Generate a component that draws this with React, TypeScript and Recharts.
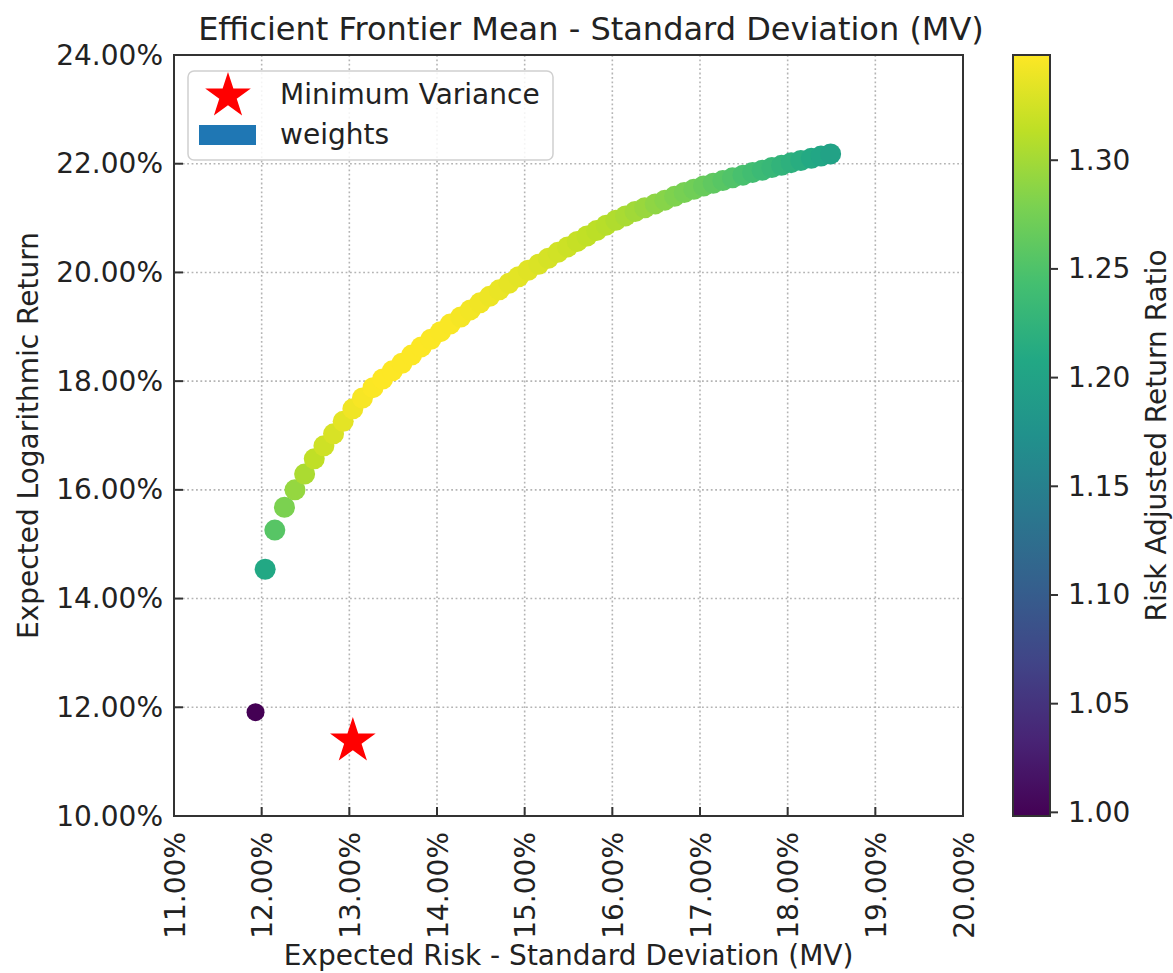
import React from 'react';
import {
  ScatterChart, Scatter, XAxis, YAxis, CartesianGrid, ReferenceArea,
  ComposedChart,
} from 'recharts';

// ---------- data ----------
const riskPct = [
  11.93, 12.04, 12.15, 12.26, 12.38, 12.49, 12.60, 12.71, 12.82, 12.93,
  13.04, 13.15, 13.27, 13.38, 13.49, 13.60, 13.71, 13.82, 13.93, 14.04,
  14.15, 14.27, 14.38, 14.49, 14.60, 14.71, 14.82, 14.93, 15.04, 15.16,
  15.27, 15.38, 15.49, 15.60, 15.71, 15.82, 15.93, 16.04, 16.15, 16.26,
  16.37, 16.49, 16.60, 16.71, 16.82, 16.93, 17.04, 17.15, 17.26, 17.37,
  17.49, 17.60, 17.71, 17.82, 17.93, 18.04, 18.15, 18.27, 18.38, 18.49,
];
const returnPct = [
  11.91, 14.54, 15.26, 15.68, 16.00, 16.29, 16.57, 16.81, 17.03, 17.26,
  17.49, 17.69, 17.88, 18.04, 18.19, 18.33, 18.48, 18.63, 18.77, 18.91,
  19.05, 19.18, 19.31, 19.44, 19.56, 19.68, 19.80, 19.92, 20.04, 20.15,
  20.26, 20.37, 20.47, 20.57, 20.67, 20.77, 20.87, 20.96, 21.04, 21.12,
  21.19, 21.26, 21.33, 21.40, 21.47, 21.53, 21.59, 21.64, 21.69, 21.74,
  21.79, 21.84, 21.88, 21.93, 21.97, 22.02, 22.06, 22.10, 22.14, 22.18,
];
const minVarRisk = [13.04];
const minVarReturn = [11.38];

const xTicks = [11, 12, 13, 14, 15, 16, 17, 18, 19, 20];
const yTicks = [10, 12, 14, 16, 18, 20, 22, 24];
const cbarTicks = [1.0, 1.05, 1.1, 1.15, 1.2, 1.25, 1.3];

const TITLE = 'Efficient Frontier Mean - Standard Deviation (MV)';
const X_LABEL = 'Expected Risk - Standard Deviation (MV)';
const Y_LABEL = 'Expected Logarithmic Return';
const CBAR_LABEL = 'Risk Adjusted Return Ratio';
const LEGEND_STAR = 'Minimum Variance';
const LEGEND_RECT = 'weights';

// ---------- styling ----------
const FONT = "'DejaVu Sans', sans-serif";
const TXT = '#222222';
const FRAME = '#333333';
const VIRIDIS = [
  '#440154', '#482475', '#414487', '#355f8d', '#2a788e', '#21918c',
  '#22a884', '#44bf70', '#7ad151', '#bddf26', '#fde725',
];

function hexToRgb(h: string) {
  const n = parseInt(h.slice(1), 16);
  return [(n >> 16) & 255, (n >> 8) & 255, n & 255];
}
function viridis(t: number) {
  const c = Math.max(0, Math.min(1, t)) * (VIRIDIS.length - 1);
  const i = Math.min(VIRIDIS.length - 2, Math.floor(c));
  const f = c - i;
  const a = hexToRgb(VIRIDIS[i]);
  const b = hexToRgb(VIRIDIS[i + 1]);
  const m = a.map((v, k) => Math.round(v + (b[k] - v) * f));
  return `rgb(${m[0]},${m[1]},${m[2]})`;
}

const ratios = riskPct.map((r, i) => returnPct[i] / r);
const cMin = Math.min(...ratios);
const cMax = Math.max(...ratios);

const frontier = riskPct.map((r, i) => ({
  x: r,
  y: returnPct[i],
  ratio: ratios[i],
  fill: viridis((ratios[i] - cMin) / (cMax - cMin)),
}));
const minVar = minVarRisk.map((r, i) => ({ x: r, y: minVarReturn[i] }));

// layout
const PLOT_LEFT = 174;
const PLOT_TOP = 55;
const PLOT_RIGHT = 963;
const PLOT_BOTTOM = 816;
const MAIN_W = 985;
const H = 973;

function starPoints(cx: number, cy: number, R: number) {
  const r = R * 0.381966;
  const pts: string[] = [];
  for (let k = 0; k < 10; k++) {
    const ang = -Math.PI / 2 + (k * Math.PI) / 5;
    const rad = k % 2 === 0 ? R : r;
    pts.push(`${cx + rad * Math.cos(ang)},${cy + rad * Math.sin(ang)}`);
  }
  return pts.join(' ');
}

const XTick = (props: any) => {
  const { x, y, payload } = props;
  return (
    <g>
      <line x1={x} x2={x} y1={y} y2={y - 9} stroke={FRAME} strokeWidth={2} />
      <text
        transform={`translate(${x + 1},${y + 16}) rotate(-90)`}
        textAnchor="end"
        dominantBaseline="central"
        fontSize={28}
        fontFamily={FONT}
        fill={TXT}
      >
        {`${Number(payload.value).toFixed(2)}%`}
      </text>
    </g>
  );
};

const YTick = (props: any) => {
  const { x, y, payload } = props;
  return (
    <g>
      <line x1={x} x2={x + 9} y1={y} y2={y} stroke={FRAME} strokeWidth={2} />
      <text
        x={x - 11}
        y={y}
        textAnchor="end"
        dominantBaseline="central"
        fontSize={28}
        fontFamily={FONT}
        fill={TXT}
      >
        {`${Number(payload.value).toFixed(2)}%`}
      </text>
    </g>
  );
};

const CTick = (props: any) => {
  const { x, y, payload } = props;
  return (
    <g>
      <line x1={x} x2={x + 8} y1={y} y2={y} stroke={FRAME} strokeWidth={2} />
      <text
        x={x + 18}
        y={y}
        textAnchor="start"
        dominantBaseline="central"
        fontSize={28}
        fontFamily={FONT}
        fill={TXT}
      >
        {Number(payload.value).toFixed(2)}
      </text>
    </g>
  );
};

const Dot = (props: any) => {
  const { cx, cy, payload, index } = props;
  return <circle cx={cx} cy={cy} r={index === 0 ? 9 : 10.5} fill={payload.fill} />;
};

const Star = (props: any) => {
  const { cx, cy } = props;
  return <polygon points={starPoints(cx, cy, 24)} fill="#ff0000" />;
};

export default function App() {
  return (
    <div style={{ position: 'absolute', left: 0, top: 0, width: 1173, height: H, background: '#fff' }}>
      <div style={{ position: 'absolute', left: 0, top: 0 }}>
        <ScatterChart
          width={MAIN_W}
          height={H}
          margin={{ top: PLOT_TOP, right: MAIN_W - PLOT_RIGHT, bottom: 0, left: 0 }}
        >
          <CartesianGrid
            stroke="#b4b4b4"
            strokeWidth={1.6}
            strokeDasharray="1.8 2.6"
            horizontalValues={yTicks}
            verticalValues={xTicks}
          />
          <XAxis
            type="number"
            dataKey="x"
            domain={[11, 20]}
            ticks={xTicks}
            interval={0}
            height={H - PLOT_BOTTOM}
            tickSize={0}
            tickMargin={0}
            axisLine={false}
            tickLine={false}
            tick={<XTick />}
            allowDataOverflow
            label={(p: any) => (
              <text
                x={(PLOT_LEFT + PLOT_RIGHT) / 2}
                y={965}
                textAnchor="middle"
                fontSize={28}
                fontFamily={FONT}
                fill={TXT}
              >
                {X_LABEL}
              </text>
            )}
          />
          <YAxis
            type="number"
            dataKey="y"
            domain={[10, 24]}
            ticks={yTicks}
            interval={0}
            width={PLOT_LEFT}
            tickSize={0}
            tickMargin={0}
            axisLine={false}
            tickLine={false}
            tick={<YTick />}
            allowDataOverflow
            label={(p: any) => (
              <text
                transform={`translate(38,${(PLOT_TOP + PLOT_BOTTOM) / 2}) rotate(-90)`}
                textAnchor="middle"
                fontSize={28}
                fontFamily={FONT}
                fill={TXT}
              >
                {Y_LABEL}
              </text>
            )}
          />
          <Scatter data={frontier} shape={<Dot />} isAnimationActive={false} />
          <Scatter data={minVar} shape={<Star />} isAnimationActive={false} />
          <ReferenceArea
            x1={11}
            x2={20}
            y1={10}
            y2={24}
            fill="none"
            fillOpacity={0}
            stroke={FRAME}
            strokeWidth={2}
            ifOverflow="visible"
          />
        </ScatterChart>
      </div>

      <div style={{ position: 'absolute', left: 1000, top: 0 }}>
        <ComposedChart
          width={173}
          height={H}
          data={[{ x: 0 }, { x: 1 }]}
          margin={{ top: PLOT_TOP, right: 0, bottom: H - PLOT_BOTTOM, left: 13 }}
        >
          <defs>
            <linearGradient id="viridisGrad" x1="0" y1="1" x2="0" y2="0">
              {VIRIDIS.map((c, i) => (
                <stop key={i} offset={`${(i / (VIRIDIS.length - 1)) * 100}%`} stopColor={c} />
              ))}
            </linearGradient>
          </defs>
          <XAxis type="number" dataKey="x" domain={[0, 1]} hide />
          <YAxis
            type="number"
            orientation="right"
            domain={[cMin, cMax]}
            ticks={cbarTicks}
            interval={0}
            width={123}
            tickSize={0}
            tickMargin={0}
            axisLine={false}
            tickLine={false}
            tick={<CTick />}
            allowDataOverflow
            label={(p: any) => (
              <text
                transform={`translate(166,${(PLOT_TOP + PLOT_BOTTOM) / 2}) rotate(-90)`}
                textAnchor="middle"
                fontSize={28}
                fontFamily={FONT}
                fill={TXT}
              >
                {CBAR_LABEL}
              </text>
            )}
          />
          <ReferenceArea
            x1={0}
            x2={1}
            y1={cMin}
            y2={cMax}
            fill="url(#viridisGrad)"
            fillOpacity={1}
            stroke={FRAME}
            strokeWidth={2}
            ifOverflow="visible"
          />
        </ComposedChart>
      </div>

      <svg
        width={1173}
        height={H}
        style={{ position: 'absolute', left: 0, top: 0, pointerEvents: 'none' }}
      >
        <text
          x={591}
          y={40}
          textAnchor="middle"
          fontSize={32}
          fontFamily={FONT}
          fill={TXT}
        >
          {TITLE}
        </text>
        <rect
          x={188}
          y={71}
          width={365}
          height={89}
          rx={6}
          ry={6}
          fill="#ffffff"
          fillOpacity={0.85}
          stroke="#d0d0d0"
          strokeWidth={1.5}
        />
        <polygon points={starPoints(228, 96, 24)} fill="#ff0000" />
        <text x={280} y={104} fontSize={28} fontFamily={FONT} fill={TXT}>
          {LEGEND_STAR}
        </text>
        <rect x={199} y={125} width={57} height={20} fill="#1f77b4" />
        <text x={280} y={144} fontSize={28} fontFamily={FONT} fill={TXT}>
          {LEGEND_RECT}
        </text>
      </svg>
    </div>
  );
}
